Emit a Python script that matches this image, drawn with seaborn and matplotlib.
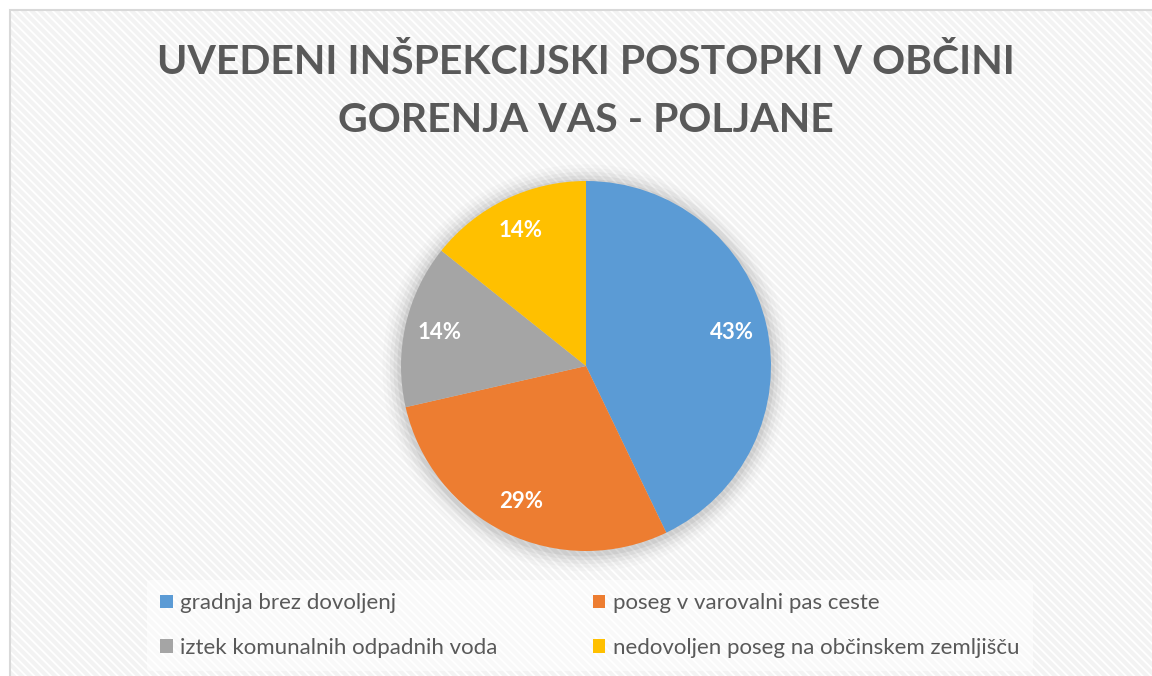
import matplotlib
matplotlib.use("Agg")
import matplotlib.pyplot as plt
import seaborn as sns
from matplotlib.patches import Rectangle, Circle, Patch

categories = ["gradnja brez dovoljenj", "poseg v varovalni pas ceste",
              "iztek komunalnih odpadnih voda", "nedovoljen poseg na občinskem zemljišču"]
values = [3, 2, 1, 1]
colors = ["#5B9BD5", "#ED7D31", "#A5A5A5", "#FFC000"]
title_lines = ["UVEDENI INŠPEKCIJSKI POSTOPKI V OBČINI", "GORENJA VAS - POLJANE"]

sns.set_theme(style="white")
plt.rcParams["font.family"] = ["Lato", "DejaVu Sans"]
plt.rcParams["hatch.linewidth"] = 1.3

W, H = 1152, 676
fig = plt.figure(figsize=(W / 100, H / 100), dpi=100)
fig.patch.set_facecolor("white")

# chart-area background with fine diagonal stripes
bg = Rectangle((10 / W, 0), 1.2, (H - 10) / H, transform=fig.transFigure,
               facecolor="#f3f3f3", edgecolor="white", linewidth=0, hatch="\\" * 4, zorder=0)
fig.add_artist(bg)
border = Rectangle((10 / W, -0.1), 1.2, (H - 10) / H + 0.1, transform=fig.transFigure,
                   facecolor="none", edgecolor="#d9d9d9", linewidth=1.5, zorder=1)
fig.add_artist(border)

# title
for i, line in enumerate(title_lines):
    fig.text(586 / W, 1 - (62 + 58 * i) / H, line, ha="center", va="center",
             fontsize=29.5, fontweight="bold", color="#595959")

# pie axes
cx, cy, r = 586, 366, 185
ax = fig.add_axes([(cx - r) / W, (H - cy - r) / H, 2 * r / W, 2 * r / H])
ax.set_facecolor("none")

# soft shadow
for rr, a in [(1.10, 0.015), (1.08, 0.02), (1.06, 0.03), (1.04, 0.04), (1.02, 0.05)]:
    ax.add_patch(Circle((0.0, -0.01), rr, facecolor="black", alpha=a, edgecolor="none",
                        zorder=0, clip_on=False))

wedges, texts, autotexts = ax.pie(values, colors=colors, startangle=90, counterclock=False,
                                  autopct="%1.0f%%", pctdistance=0.81,
                                  wedgeprops=dict(linewidth=0, zorder=2),
                                  textprops=dict(color="white", fontsize=16, fontweight="bold"))
for t in autotexts:
    t.set_zorder(5)
ax.set_xlim(-1, 1)
ax.set_ylim(-1, 1)
ax.set_aspect("equal")
ax.axis("off")

# legend (row-wise order in 2 columns)
handles = [Patch(facecolor=c, edgecolor="none") for c in colors]
order = [0, 2, 1, 3]
leg = fig.legend([handles[i] for i in order], [categories[i] for i in order],
                 ncol=2, loc="upper left", bbox_to_anchor=(147 / W, 1 - 580 / H),
                 frameon=True, fontsize=16, handlelength=0.55, handleheight=0.55,
                 handletextpad=0.35, columnspacing=4.3, labelspacing=1.1,
                 borderpad=0.6, borderaxespad=0)
leg.get_frame().set_facecolor("white")
leg.get_frame().set_alpha(0.55)
leg.get_frame().set_edgecolor("none")
for t in leg.get_texts():
    t.set_color("#595959")

fig.savefig("out.png", dpi=100)
